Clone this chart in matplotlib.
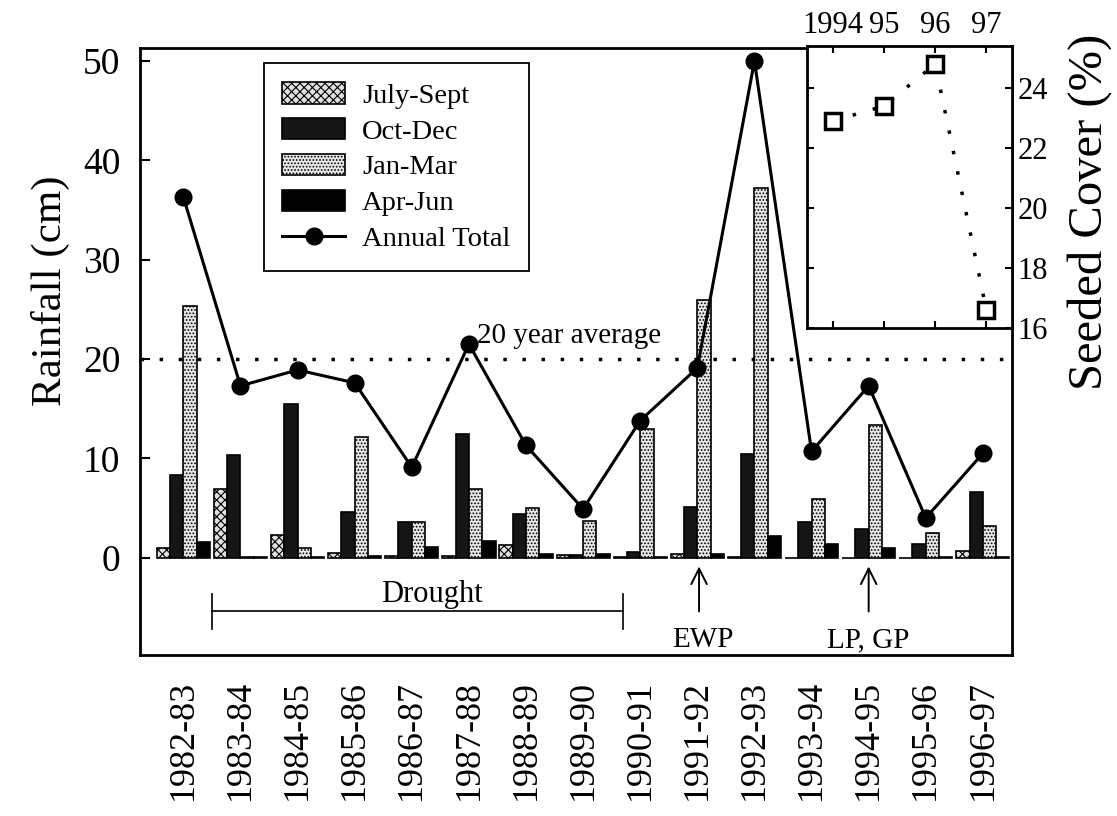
import numpy as np
import matplotlib
matplotlib.use('Agg')
import matplotlib.pyplot as plt

plt.rcParams['font.family'] = ['Liberation Serif', 'DejaVu Serif']
plt.rcParams['hatch.linewidth'] = 0.8

# Datos (cm de lluvia por temporada)
seasons = ['1982-83', '1983-84', '1984-85', '1985-86', '1986-87', '1987-88', '1988-89',
           '1989-90', '1990-91', '1991-92', '1992-93', '1993-94', '1994-95', '1995-96', '1996-97']
july_sept = [1.0, 6.9, 2.3, 0.5, 0.2, 0.2, 1.3, 0.3, 0.1, 0.4, 0.1, 0.0, 0.0, 0.0, 0.7]
oct_dec = [8.3, 10.3, 15.5, 4.6, 3.6, 12.5, 4.4, 0.3, 0.6, 5.1, 10.4, 3.6, 2.9, 1.4, 6.6]
jan_mar = [25.3, 0.1, 1.0, 12.1, 3.6, 6.9, 5.0, 3.7, 13.0, 25.9, 37.2, 5.9, 13.4, 2.5, 3.2]
apr_jun = [1.6, 0.1, 0.1, 0.2, 1.1, 1.7, 0.4, 0.4, 0.1, 0.4, 2.2, 1.4, 1.0, 0.1, 0.1]
annual = [36.3, 17.3, 18.9, 17.6, 9.1, 21.5, 11.3, 4.9, 13.8, 19.1, 50.0, 10.7, 17.3, 4.0, 10.5]
avg_20yr = 20

# Cobertura sembrada (inset)
cover_years = [1994, 1995, 1996, 1997]
cover_labels = ['1994', '95', '96', '97']
cover = [22.9, 23.4, 24.8, 16.6]

fig = plt.figure(figsize=(11.17, 8.16), dpi=100)
ax = fig.add_axes([0.1253, 0.1973, 0.7807, 0.7437])

x = np.arange(len(seasons))
w = 0.233
b1 = ax.bar(x - 1.5 * w, july_sept, w, facecolor='#e0e0e0', edgecolor='black', hatch='xxxx', lw=1.2, label='July-Sept')
b2 = ax.bar(x - 0.5 * w, oct_dec, w, facecolor='#151515', edgecolor='black', lw=1.2, label='Oct-Dec')
b3 = ax.bar(x + 0.5 * w, jan_mar, w, facecolor='#e8e8e8', edgecolor='black', hatch='.....', lw=1.2, label='Jan-Mar')
b4 = ax.bar(x + 1.5 * w, apr_jun, w, facecolor='black', edgecolor='black', lw=1.2, label='Apr-Jun')
ln, = ax.plot(x, annual, 'k-', lw=2.2, marker='o', ms=12, label='Annual Total')

ax.axhline(avg_20yr, color='black', lw=2.5, ls=(0, (1, 4.5)))
ax.text(5.15, 22.3, '20 year average', fontsize=21, ha='left', va='center')

# Sequia
ax.plot([0.5, 7.7], [-5.4, -5.4], color='black', lw=1.2)
ax.plot([0.5, 0.5], [-3.7, -7.2], color='black', lw=1.2)
ax.plot([7.7, 7.7], [-3.7, -7.2], color='black', lw=1.2)
ax.text(4.35, -3.7, 'Drought', fontsize=22, ha='center', va='center')

ax.annotate('', xy=(9.03, -0.6), xytext=(9.03, -5.7),
            arrowprops=dict(arrowstyle='->', lw=1.4, mutation_scale=28))
ax.text(9.1, -8.3, 'EWP', fontsize=21, ha='center', va='center')
ax.annotate('', xy=(12.0, -0.6), xytext=(12.0, -5.7),
            arrowprops=dict(arrowstyle='->', lw=1.4, mutation_scale=28))
ax.text(12.0, -8.3, 'LP, GP', fontsize=21, ha='center', va='center')

ax.set_xlim(-0.76, 14.51)
ax.set_ylim(-9.8, 51.3)
ax.set_yticks([0, 10, 20, 30, 40, 50])
ax.set_xticks(x)
ax.set_xticklabels(seasons, rotation=90, fontsize=26)
ax.tick_params(axis='x', length=0, pad=18)
ax.tick_params(axis='y', direction='in', length=7, width=1.5, labelsize=27, pad=14)
ax.set_ylabel('Rainfall (cm)', fontsize=31)
ax.yaxis.set_label_coords(-0.08, 0.6)
for s in ax.spines.values():
    s.set_linewidth(2)

leg = ax.legend([b1, b2, b3, b4, ln], ['July-Sept', 'Oct-Dec', 'Jan-Mar', 'Apr-Jun', 'Annual Total'],
                loc='upper left', bbox_to_anchor=(0.142, 0.975), fontsize=20.5, frameon=True,
                fancybox=False, edgecolor='black', framealpha=1, handlelength=2.2, handleheight=0.8,
                labelspacing=0.32, borderpad=0.65, borderaxespad=0, handletextpad=0.6)
leg.get_frame().set_linewidth(1.3)

# Inset
axi = fig.add_axes([0.7225, 0.598, 0.1835, 0.3456])
axi.plot(cover_years, cover, color='black', ls=(0, (1, 5)), lw=2.5, marker='s', ms=11,
         mfc='white', mec='black', mew=2.5)
axi.set_xlim(1993.5, 1997.5)
axi.set_ylim(16, 25.4)
axi.set_xticks(cover_years)
axi.set_xticklabels(cover_labels)
axi.set_yticks([16, 18, 20, 22, 24])
axi.tick_params(direction='in', length=5, width=1.5, labelsize=22, top=True, right=True,
                labeltop=True, labelbottom=False, labelleft=False, labelright=True, pad=4)
for s in axi.spines.values():
    s.set_linewidth(2)

fig.text(1090 / 1117, 1 - 212 / 816, 'Seeded Cover (%)', fontsize=35, rotation=90,
         ha='center', va='center')

fig.savefig('out.png', dpi=100)
